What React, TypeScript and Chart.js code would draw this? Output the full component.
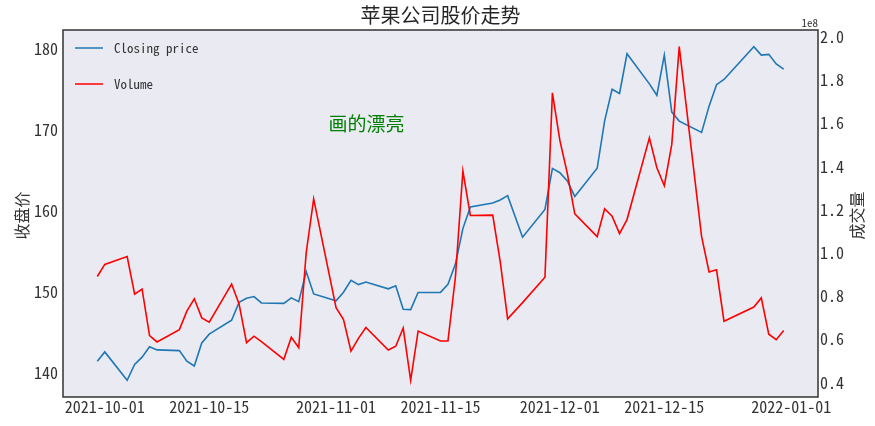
import React, { useEffect, useRef } from 'react';
import { Chart, registerables } from 'chart.js';

Chart.register(...registerables);

// ---------------- data ----------------
const tradingDates: string[] = [
  '2021-09-30',
  '2021-10-01', '2021-10-04', '2021-10-05', '2021-10-06', '2021-10-07', '2021-10-08',
  '2021-10-11', '2021-10-12', '2021-10-13', '2021-10-14', '2021-10-15',
  '2021-10-18', '2021-10-19', '2021-10-20', '2021-10-21', '2021-10-22',
  '2021-10-25', '2021-10-26', '2021-10-27', '2021-10-28', '2021-10-29',
  '2021-11-01', '2021-11-02', '2021-11-03', '2021-11-04', '2021-11-05',
  '2021-11-08', '2021-11-09', '2021-11-10', '2021-11-11', '2021-11-12',
  '2021-11-15', '2021-11-16', '2021-11-17', '2021-11-18', '2021-11-19',
  '2021-11-22', '2021-11-23', '2021-11-24', '2021-11-26',
  '2021-11-29', '2021-11-30', '2021-12-01', '2021-12-02', '2021-12-03',
  '2021-12-06', '2021-12-07', '2021-12-08', '2021-12-09', '2021-12-10',
  '2021-12-13', '2021-12-14', '2021-12-15', '2021-12-16', '2021-12-17',
  '2021-12-20', '2021-12-21', '2021-12-22', '2021-12-23',
  '2021-12-27', '2021-12-28', '2021-12-29', '2021-12-30', '2021-12-31',
];

const closingPrice: number[] = [
  141.50,
  142.65, 139.14, 141.11, 142.00, 143.29, 142.90,
  142.81, 141.51, 140.91, 143.76, 144.84,
  146.55, 148.76, 149.26, 149.48, 148.69,
  148.64, 149.32, 148.85, 152.57, 149.80,
  148.96, 150.02, 151.49, 150.96, 151.28,
  150.44, 150.81, 147.92, 147.87, 149.99,
  150.00, 151.00, 153.49, 157.87, 160.55,
  161.02, 161.41, 161.94, 156.81,
  160.24, 165.30, 164.77, 163.76, 161.84,
  165.32, 171.18, 175.08, 174.56, 179.45,
  175.74, 174.33, 179.30, 172.26, 171.14,
  169.75, 172.99, 175.64, 176.28,
  180.33, 179.29, 179.38, 178.20, 177.57,
];

const volume: number[] = [
  89056700,
  94639600, 98322000, 80861100, 83221100, 61732700, 58773200,
  64452200, 73035900, 78762700, 69907100, 67940300,
  85589200, 76378900, 58418800, 61421000, 58883400,
  50720600, 60893400, 56094900, 100077900, 124953200,
  74588300, 69122000, 54511500, 60394600, 65463900,
  55020900, 56787900, 65187100, 41000000, 63804000,
  59222800, 59256200, 88807000, 137827700, 117305600,
  117467900, 96041900, 69463600, 76959800,
  88748200, 174048100, 152052500, 136739200, 118023100,
  107497000, 120405400, 116998900, 108923700, 115402700,
  153237000, 139380400, 131063300, 150185800, 195432700,
  107499100, 91185900, 92135300, 68356600,
  74919600, 79144300, 62348900, 59773000, 64062300,
];

const xTickDates: string[] = [
  '2021-10-01', '2021-10-15', '2021-11-01', '2021-11-15',
  '2021-12-01', '2021-12-15', '2022-01-01',
];
const priceTicks: number[] = [140, 150, 160, 170, 180];
const volumeTicks: number[] = [0.4e8, 0.6e8, 0.8e8, 1.0e8, 1.2e8, 1.4e8, 1.6e8, 1.8e8, 2.0e8];

const titleText = '苹果公司股价走势';
const leftAxisTitle = '收盘价';
const rightAxisTitle = '成交量';
const seriesNames = ['Closing price', 'Volume'];
const annotationText = '画的漂亮';
const annotationDate = '2021-10-31';
const annotationPrice = 170;

// ---------------- helpers ----------------
const toDay = (s: string) => {
  const [y, m, d] = s.split('-').map(Number);
  return Date.UTC(y, m - 1, d) / 86400000;
};
const fmtDay = (v: number) => {
  const dt = new Date(Math.round(v) * 86400000);
  const y = dt.getUTCFullYear();
  const m = String(dt.getUTCMonth() + 1).padStart(2, '0');
  const d = String(dt.getUTCDate()).padStart(2, '0');
  return `${y}-${m}-${d}`;
};
const withMargin = (vals: number[]) => {
  const lo = Math.min(...vals);
  const hi = Math.max(...vals);
  const pad = (hi - lo) * 0.05;
  return [lo - pad, hi + pad];
};

const BLUE = '#1f77b4';
const RED = '#ff0000';
const TEXT = '#333333';
const MONO = "'Noto Sans Mono CJK SC', 'DejaVu Sans Mono', monospace";
const CJK = "'Noto Sans CJK SC', sans-serif";

export default function App() {
  const ref = useRef<HTMLCanvasElement | null>(null);

  useEffect(() => {
    document.body.style.margin = '0';
    const canvas = ref.current;
    if (!canvas) return;

    const days = tradingDates.map(toDay);
    const [xMin, xMax] = withMargin(days);
    const [pMin, pMax] = withMargin(closingPrice);
    const [vMin, vMax] = withMargin(volume);

    const decor = {
      id: 'decor',
      beforeDraw(chart: any) {
        const { ctx, chartArea: a } = chart;
        ctx.save();
        ctx.fillStyle = '#ffffff';
        ctx.fillRect(0, 0, chart.width, chart.height);
        ctx.fillStyle = '#EAEAF2';
        ctx.fillRect(a.left, a.top, a.right - a.left, a.bottom - a.top);
        ctx.restore();
      },
      afterDraw(chart: any) {
        const { ctx, chartArea: a, scales } = chart;
        ctx.save();
        // frame
        ctx.strokeStyle = '#333333';
        ctx.lineWidth = 1.5;
        ctx.strokeRect(a.left, a.top, a.right - a.left, a.bottom - a.top);

        // title
        ctx.fillStyle = '#262626';
        ctx.font = `20px ${CJK}`;
        ctx.textAlign = 'center';
        ctx.textBaseline = 'middle';
        ctx.fillText(titleText, (a.left + a.right) / 2, 15);

        // legend
        const colors = [BLUE, RED];
        ctx.font = `13px ${MONO}`;
        ctx.textAlign = 'left';
        ctx.textBaseline = 'middle';
        seriesNames.forEach((name, i) => {
          const y = a.top + 18 + i * 36;
          ctx.strokeStyle = colors[i];
          ctx.lineWidth = 1.5;
          ctx.beginPath();
          ctx.moveTo(a.left + 12, y);
          ctx.lineTo(a.left + 40, y);
          ctx.stroke();
          ctx.fillStyle = TEXT;
          ctx.fillText(name, a.left + 51, y);
        });

        // annotation
        ctx.fillStyle = 'green';
        ctx.font = `19px ${CJK}`;
        ctx.textAlign = 'left';
        ctx.textBaseline = 'alphabetic';
        ctx.fillText(
          annotationText,
          scales.x.getPixelForValue(toDay(annotationDate)),
          scales.y.getPixelForValue(annotationPrice) + 1
        );

        // axis titles
        ctx.fillStyle = TEXT;
        ctx.font = `16px ${CJK}`;
        ctx.textAlign = 'center';
        ctx.textBaseline = 'middle';
        const midY = (a.top + a.bottom) / 2 + 2;
        ctx.save();
        ctx.translate(22, midY);
        ctx.rotate(-Math.PI / 2);
        ctx.fillText(leftAxisTitle, 0, 0);
        ctx.restore();
        ctx.save();
        ctx.translate(857, midY);
        ctx.rotate(-Math.PI / 2);
        ctx.fillText(rightAxisTitle, 0, 0);
        ctx.restore();

        // offset text
        ctx.font = `11px ${MONO}`;
        ctx.textAlign = 'right';
        ctx.textBaseline = 'alphabetic';
        ctx.fillText('1e8', a.right, a.top - 3);
        ctx.restore();
      },
    };

    const chart = new Chart(canvas, {
      type: 'line',
      data: {
        datasets: [
          {
            label: seriesNames[0],
            data: days.map((d, i) => ({ x: d, y: closingPrice[i] })),
            borderColor: BLUE,
            borderWidth: 1.6,
            pointRadius: 0,
            tension: 0,
            yAxisID: 'y',
            order: 1,
          },
          {
            label: seriesNames[1],
            data: days.map((d, i) => ({ x: d, y: volume[i] })),
            borderColor: RED,
            borderWidth: 1.6,
            pointRadius: 0,
            tension: 0,
            yAxisID: 'y1',
            order: 0,
          },
        ],
      },
      options: {
        responsive: false,
        animation: false,
        events: [],
        layout: { padding: { top: 30, left: 0, right: 0, bottom: 0 } },
        plugins: {
          legend: { display: false },
          title: { display: false },
          tooltip: { enabled: false },
        },
        scales: {
          x: {
            type: 'linear',
            min: xMin,
            max: xMax,
            bounds: 'data',
            grid: { display: false, drawTicks: false },
            border: { display: false },
            afterBuildTicks: (s: any) => {
              s.ticks = xTickDates.map((d) => ({ value: toDay(d) }));
            },
            afterFit: (s: any) => {
              s.height = 29;
            },
            ticks: {
              autoSkip: false,
              maxRotation: 0,
              padding: 0,
              color: TEXT,
              font: { family: MONO, size: 16 },
              callback: (v: any) => fmtDay(Number(v)),
            },
          },
          y: {
            type: 'linear',
            position: 'left',
            min: pMin,
            max: pMax,
            bounds: 'data',
            grid: { display: false, drawTicks: false },
            border: { display: false },
            afterBuildTicks: (s: any) => {
              s.ticks = priceTicks.map((v) => ({ value: v }));
            },
            afterFit: (s: any) => {
              s.width = 63;
            },
            ticks: {
              padding: 5,
              color: TEXT,
              font: { family: MONO, size: 16 },
              callback: (v: any) => String(v),
            },
          },
          y1: {
            type: 'linear',
            position: 'right',
            min: vMin,
            max: vMax,
            bounds: 'data',
            grid: { display: false, drawTicks: false },
            border: { display: false },
            afterBuildTicks: (s: any) => {
              s.ticks = volumeTicks.map((v) => ({ value: v }));
            },
            afterFit: (s: any) => {
              s.width = 57;
            },
            ticks: {
              padding: 2,
              color: TEXT,
              font: { family: MONO, size: 16 },
              callback: (v: any) => (Number(v) / 1e8).toFixed(1),
            },
          },
        },
      },
      plugins: [decor],
    } as any);

    return () => chart.destroy();
  }, []);

  return <canvas ref={ref} width={875} height={426} style={{ display: 'block' }} />;
}
